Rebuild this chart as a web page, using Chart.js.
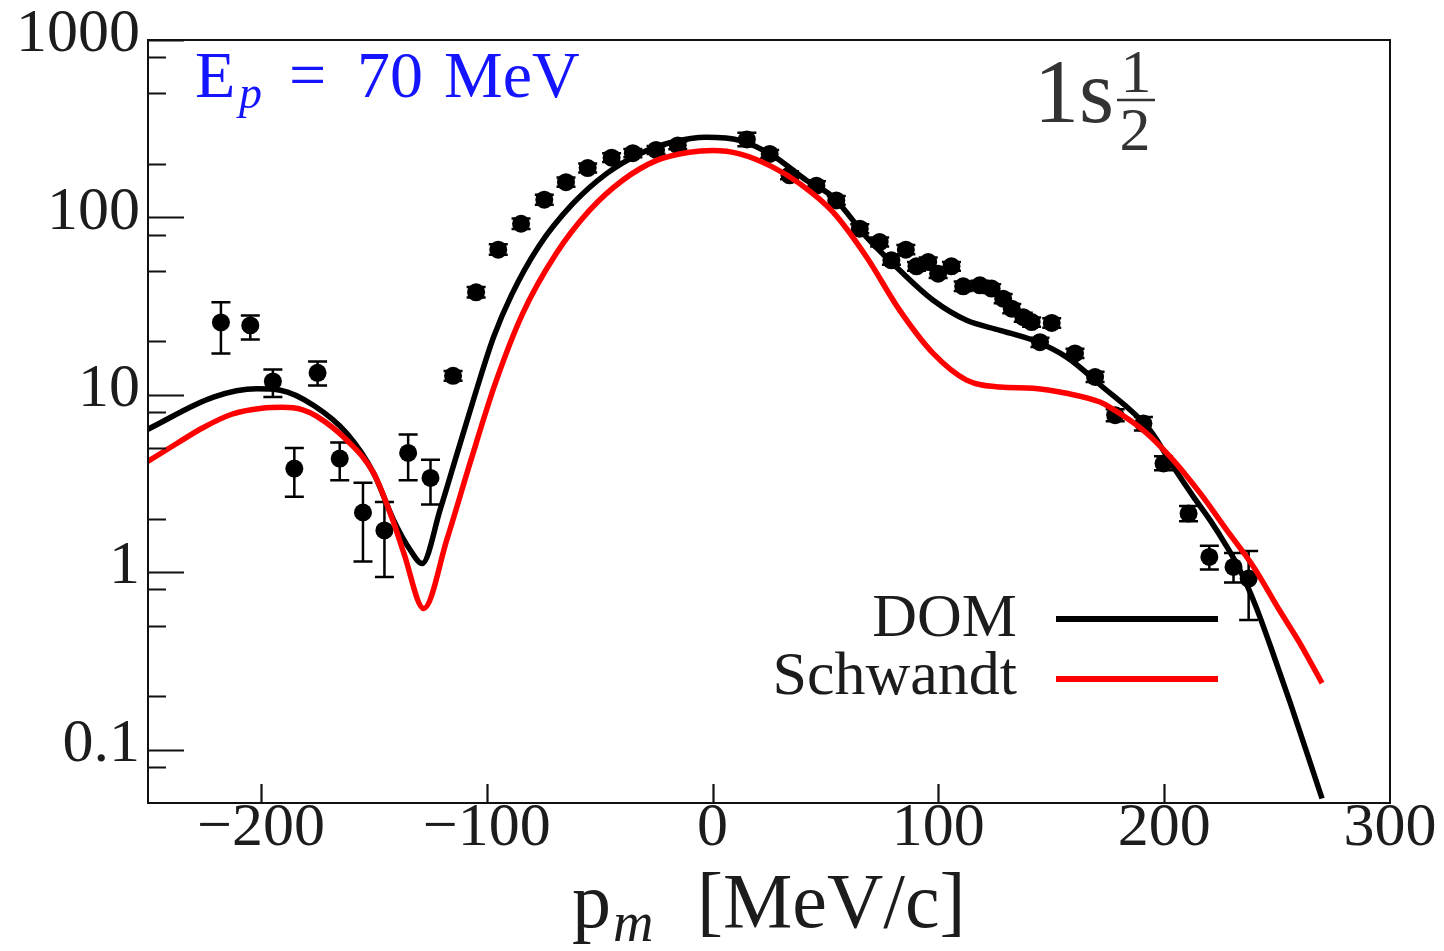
<!DOCTYPE html>
<html><head><meta charset="utf-8">
<script src="https://cdn.jsdelivr.net/npm/chart.js@4/dist/chart.umd.min.js"></script>
<style>html,body{margin:0;padding:0;background:#fff;} canvas{display:block;}</style>
</head><body>
<canvas id="c" width="1444" height="951"></canvas>
<script>
// ---- experimental data (p_m in MeV/c, cross section) ----
const dataPm  = [-217.7,-204.7,-194.7,-185.2,-174.9,-165.1,-154.8,-145.3,-134.8,-124.9,-114.9,-104.7,-94.9,-84.8,-74.5,-64.9,-55.3,-44.7,-35.3,-25,-15.4,15.2,25.3,34.1,46,54.8,65.2,74,79.2,85.6,90.3,95.5,99.9,105.8,111,118.4,123.6,128.7,132.5,137.6,141.3,145,150.2,160.5,169.4,178.3,190.8,199.7,210.8,220,230.7,237.4];
const dataVal = [25.6,24.6,11.9,3.84,13.3,4.37,2.17,1.72,4.70,3.40,12.8,37.8,65.8,92.1,125.8,158,189.6,217,230,240,254.6,275,228,172.6,151,124.7,86.4,72.6,57.3,65.8,53.0,56.0,48.2,53.0,40.9,41.4,39.7,34.8,30.6,27.4,25.7,19.8,25.4,17.1,12.6,7.67,6.88,4.10,2.14,1.22,1.07,0.92];
const dataErrHi = [33.2,28.0,13.9,5.02,15.4,5.38,3.19,2.49,5.97,4.31,13.6,40.5,70.5,98.5,134,168,201,230,243,253,268,300,240,182,160,132,91.5,77,61,70,56,59.5,51,56,43.5,44,42,37,32.5,29,27.3,21,27,18.2,13.5,8.3,7.5,4.5,2.36,1.41,1.285,1.318];
const dataErrLo = [17.1,20.5,9.72,2.66,11.3,3.30,1.15,0.94,3.30,2.41,12.0,35.3,61.5,86,118,149,179,205,218,228,242,252,216,164,143,118,81.5,68.5,54,62,50,53,45.5,50,38.5,39,37.5,32.8,28.8,25.8,24.2,18.6,23.9,16.1,11.8,7.1,6.3,3.75,1.94,1.035,0.875,0.537];

// ---- DOM curve ----
const domPm  = [-250,-221,-201.8,-191.4,-176.6,-161.9,-150,-141.2,-133.8,-128.6,-120.5,-113,-105,-97,-89,-77,-62,-47.1,-32.4,-17.6,-2.8,12,26.7,41.5,53.4,68.2,82.9,97.7,112.5,127.3,142,156.8,171.6,193.8,204.1,213,220.4,227.8,233.7,240.4,247,255.9,269.9];
const domVal = [6.4,9.7,10.8,10.6,8.7,6.05,3.6,1.96,1.33,1.12,2.28,4.72,10.2,21.1,36.6,68.6,119,176,228,266,283,272,223,162,130,77.4,50.3,34.1,26.3,23.1,20.3,16.3,11.4,6.3,3.92,2.66,1.96,1.39,1.02,0.652,0.385,0.182,0.053];

// ---- Schwandt curve ----
const schPm  = [-250.5,-237.1,-226.1,-212.9,-199.6,-190.7,-181.8,-175.2,-161.9,-150,-141.2,-136.7,-127.9,-117.5,-107.2,-96.1,-84.1,-69.3,-54.5,-39.8,-25,-10.2,0,12,26.7,38.6,53.4,68.2,82.9,97.7,112.5,127.3,142,156.8,171.6,176,190.8,202.7,216,227.8,239.6,251.4,260,269.9];
const schVal = [4.18,5.33,6.48,7.77,8.40,8.5,8.26,7.56,5.54,3.6,1.9,1.28,0.624,1.55,4.2,11.7,28.7,62.4,109.5,162,209,233,238,228,192,155,107,59.8,29.9,17.1,12.1,11.07,10.9,10.2,9.1,8.5,6.31,4.47,2.78,1.72,1.07,0.60,0.40,0.237];

// ---- axes ----
const xTickVals   = [-200,-100,0,100,200,300];
const xMajorMarks = [-200,-100,0,100,200];
const yTickVals   = [0.1,1,10,100,1000];
const yTickLabels = ['0.1','1','10','100','1000'];
const yMinorVals  = [0.08,0.2,0.5,0.8,2,5,8,20,50,80,200,500,800];
const seriesNames = ['Schwandt','DOM'];
const xTitleMain = 'p', xTitleSub = 'm', xTitleUnit = '[MeV/c]';

const SERIF = '"Liberation Serif", "DejaVu Serif", serif';
const INK = '#1c1c1c';

function pts(xs, ys){ return xs.map((x,i)=>({x:x, y:ys[i]})); }

const decor = {
  id: 'decor',
  beforeDatasetsDraw(chart){
    const {ctx, scales:{x, y}} = chart;
    ctx.save();
    ctx.strokeStyle = '#000';
    ctx.lineWidth = 2.5;
    for (let i=0;i<dataPm.length;i++){
      const px = x.getPixelForValue(dataPm[i]);
      const yt = y.getPixelForValue(dataErrHi[i]);
      const yb = y.getPixelForValue(dataErrLo[i]);
      ctx.beginPath();
      ctx.moveTo(px, yt); ctx.lineTo(px, yb);
      ctx.moveTo(px-9.5, yt); ctx.lineTo(px+9.5, yt);
      ctx.moveTo(px-9.5, yb); ctx.lineTo(px+9.5, yb);
      ctx.stroke();
    }
    ctx.restore();
  },
  afterDatasetsDraw(chart){
    const {ctx, chartArea:a, scales:{x, y}} = chart;
    ctx.save();
    // frame
    ctx.strokeStyle = '#111';
    ctx.lineWidth = 2;
    ctx.strokeRect(a.left, a.top, a.right-a.left, a.bottom-a.top);
    // ticks (inside)
    ctx.lineWidth = 2.2;
    ctx.beginPath();
    yTickVals.forEach(v=>{ const py = Math.round(y.getPixelForValue(v))+0.5; ctx.moveTo(a.left, py); ctx.lineTo(a.left+36, py); });
    yMinorVals.forEach(v=>{ const py = Math.round(y.getPixelForValue(v))+0.5; ctx.moveTo(a.left, py); ctx.lineTo(a.left+18, py); });
    xMajorMarks.forEach(v=>{ const px = Math.round(x.getPixelForValue(v))+0.5; ctx.moveTo(px, a.bottom); ctx.lineTo(px, a.bottom-19); });
    ctx.stroke();

    // legend
    ctx.textAlign = 'right';
    ctx.textBaseline = 'alphabetic';
    ctx.font = '62px ' + SERIF;
    ctx.fillStyle = INK;
    const ds = chart.data.datasets;
    const rows = [{d: ds[1], yb: 636, yl: 619}, {d: ds[0], yb: 694, yl: 679}];
    rows.forEach(r=>{
      ctx.fillText(r.d.label, 1017, r.yb);
      ctx.strokeStyle = r.d.borderColor;
      ctx.lineWidth = 6;
      ctx.beginPath(); ctx.moveTo(1056, r.yl); ctx.lineTo(1218, r.yl); ctx.stroke();
    });

    // E_p annotation
    ctx.textAlign = 'left';
    ctx.fillStyle = '#1414ff';
    ctx.font = '66px ' + SERIF;
    ctx.fillText('E', 195, 97);
    ctx.font = 'italic 46px ' + SERIF;
    ctx.fillText('p', 239, 108);
    ctx.font = '66px ' + SERIF;
    ctx.fillText('=', 289, 97);
    ctx.fillText('70', 357, 97);
    ctx.fillText('MeV', 444, 97);

    // 1s 1/2 label
    ctx.fillStyle = '#333';
    ctx.font = '90px ' + SERIF;
    ctx.fillText('1s', 1034, 122);
    ctx.textAlign = 'center';
    ctx.font = '62px ' + SERIF;
    ctx.fillText('1', 1136, 92);
    ctx.fillText('2', 1135, 150);
    ctx.strokeStyle = '#333';
    ctx.lineWidth = 2.5;
    ctx.beginPath(); ctx.moveTo(1117, 100); ctx.lineTo(1155, 100); ctx.stroke();

    // x title
    ctx.textAlign = 'left';
    ctx.fillStyle = INK;
    ctx.font = '78px ' + SERIF;
    ctx.fillText(xTitleMain, 572, 927);
    ctx.font = 'italic 56px ' + SERIF;
    ctx.fillText(xTitleSub, 613, 941);
    ctx.font = '78px ' + SERIF;
    ctx.fillText(xTitleUnit, 697, 927);
    ctx.restore();
  }
};

new Chart(document.getElementById('c'), {
  type: 'scatter',
  data: {
    datasets: [
      { label: seriesNames[0], data: pts(schPm, schVal), showLine: true, borderColor: '#ff0000', borderWidth: 5.5, pointRadius: 0, fill: false, cubicInterpolationMode: 'monotone' },
      { label: seriesNames[1], data: pts(domPm, domVal), showLine: true, borderColor: '#000000', borderWidth: 5.5, pointRadius: 0, fill: false, cubicInterpolationMode: 'monotone' },
      { label: 'data', data: pts(dataPm, dataVal), showLine: false, pointRadius: 9, pointBackgroundColor: '#000', pointBorderWidth: 0, backgroundColor: '#000', borderColor: '#000' }
    ]
  },
  options: {
    responsive: false,
    animation: false,
    devicePixelRatio: 1,
    layout: { padding: { left: 0, right: 54, top: 40, bottom: 0 } },
    plugins: { legend: { display: false }, tooltip: { enabled: false } },
    scales: {
      x: {
        type: 'linear', position: 'bottom', min: -250, max: 300,
        grid: { display: false, drawTicks: false }, border: { display: false },
        afterBuildTicks: s => { s.ticks = xTickVals.map(v=>({value:v})); },
        afterFit: s => { s.height = 148; },
        ticks: {
          autoSkip: false, maxRotation: 0, minRotation: 0, padding: 1, color: INK,
          font: { family: SERIF, size: 62, lineHeight: 0.8 },
          callback: v => (v < 0 ? '\u2212' + Math.abs(v) : String(v))
        }
      },
      y: {
        type: 'logarithmic', position: 'left', min: 0.05, max: 1000,
        grid: { display: false, drawTicks: false }, border: { display: false },
        afterBuildTicks: s => { s.ticks = yTickVals.map(v=>({value:v})); },
        afterFit: s => { s.width = 148; },
        ticks: {
          autoSkip: false, padding: 8, labelOffset: -5, color: INK,
          font: { family: SERIF, size: 62, lineHeight: 0.8 },
          callback: (v) => { const i = yTickVals.indexOf(v); return i >= 0 ? yTickLabels[i] : ''; }
        }
      }
    }
  },
  plugins: [decor]
});
</script>
</body></html>
